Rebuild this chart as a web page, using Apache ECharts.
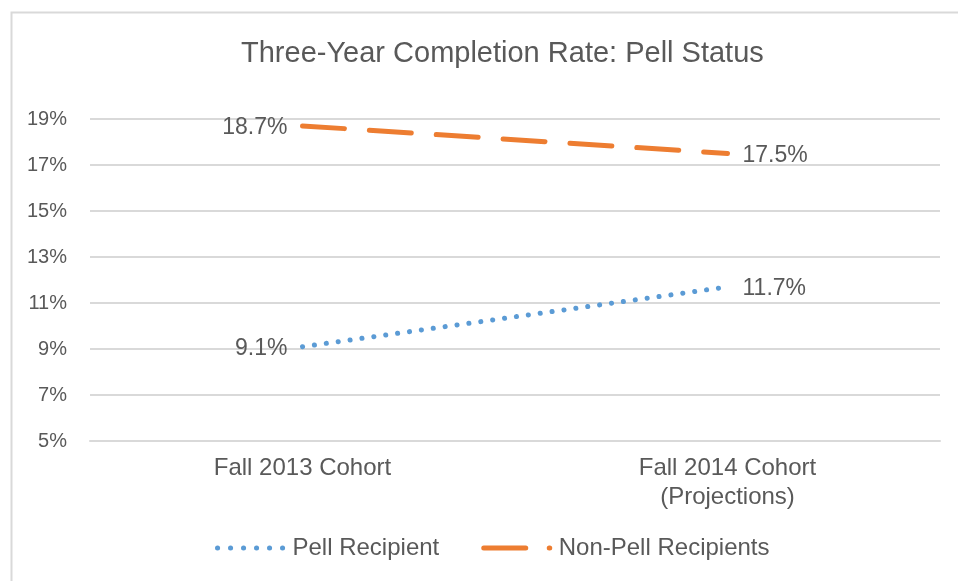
<!DOCTYPE html>
<html><head><meta charset="utf-8">
<script src="https://cdn.jsdelivr.net/npm/echarts@6/dist/echarts.min.js"></script>
<style>html,body{margin:0;padding:0;background:#fff}#c{width:958px;height:581px}</style>
</head><body><div id="c"></div>
<script>
const titleText = 'Three-Year Completion Rate: Pell Status';
const categories = ['Fall 2013 Cohort', 'Fall 2014 Cohort\n(Projections)'];
const seriesNames = ['Pell Recipient', 'Non-Pell Recipients'];
const pellRecipient = [9.1, 11.7];
const nonPellRecipients = [18.7, 17.5];
const yMin = 5, yMax = 19, yStep = 2;

const FONT = "'Liberation Sans', Arial, sans-serif";
const TXT = '#595959';
const BLUE = '#5B9BD5';
const ORANGE = '#ED7D31';

function pointData(arr) {
  return arr.map((v, i) => ({ value: v, label: { position: i === 0 ? 'left' : 'right' } }));
}
const labelCfg = {
  show: true, distance: 15, offset: [0, 2], fontFamily: FONT, fontSize: 23, color: TXT,
  formatter: p => p.value.toFixed(1) + '%'
};

const chart = echarts.init(document.getElementById('c'), null, { renderer: 'canvas' });
chart.setOption({
  animation: false,
  backgroundColor: '#fff',
  graphic: [{
    type: 'rect', left: 9, top: 10, silent: true,
    shape: { width: 980, height: 620 },
    style: { fill: 'none', stroke: '#D9D9D9', lineWidth: 2 }
  }],
  title: {
    text: titleText, left: 236, top: 34,
    textStyle: { fontFamily: FONT, fontSize: 29, fontWeight: 'normal', color: TXT }
  },
  grid: { left: 90, right: 18, top: 119, bottom: 140, containLabel: false },
  legend: {
    left: 215, top: 536, padding: 0, itemWidth: 66, itemHeight: 24, itemGap: 42,
    itemStyle: { opacity: 0 },
    textStyle: { fontFamily: FONT, fontSize: 24, color: TXT, padding: [0, 0, 0, 4] },
    data: [
      { name: seriesNames[0], lineStyle: { width: 5, type: [0.1, 12.9], cap: 'round', color: BLUE } },
      { name: seriesNames[1], lineStyle: { width: 5, type: [42, 23.5], cap: 'round', color: ORANGE } }
    ]
  },
  xAxis: {
    type: 'category', data: categories, boundaryGap: true,
    axisLine: { show: true, lineStyle: { color: '#D9D9D9', width: 2 } },
    axisTick: { show: false },
    axisLabel: { fontFamily: FONT, fontSize: 24, color: TXT, margin: 13, lineHeight: 29 }
  },
  yAxis: {
    type: 'value', min: yMin, max: yMax, interval: yStep,
    axisLine: { show: false }, axisTick: { show: false },
    splitLine: { lineStyle: { color: '#D9D9D9', width: 2 } },
    axisLabel: { fontFamily: FONT, fontSize: 20, color: TXT, margin: 23, formatter: '{value}%' }
  },
  series: [
    {
      name: seriesNames[0], type: 'line', data: pointData(pellRecipient),
      symbol: 'circle', symbolSize: 0, itemStyle: { color: BLUE },
      lineStyle: { color: BLUE, width: 5, type: [0.1, 11.9], cap: 'round' },
      label: labelCfg
    },
    {
      name: seriesNames[1], type: 'line', data: pointData(nonPellRecipients),
      symbol: 'circle', symbolSize: 0, itemStyle: { color: ORANGE },
      lineStyle: { color: ORANGE, width: 5, type: [42, 25], cap: 'round' },
      label: labelCfg
    }
  ]
});
</script></body></html>
